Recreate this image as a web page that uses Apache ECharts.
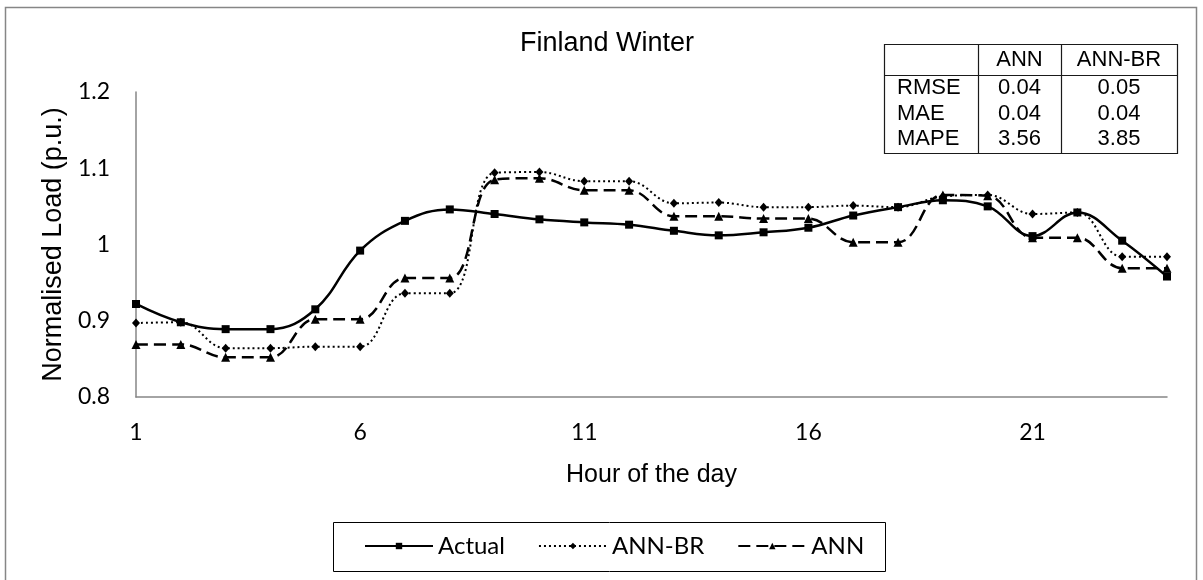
<!DOCTYPE html>
<html>
<head>
<meta charset="utf-8">
<title>Finland Winter</title>
<script src="https://cdn.jsdelivr.net/npm/echarts@6/dist/echarts.min.js"></script>
<style>
    html, body { margin: 0; padding: 0; background: #fff; }
    #main { width: 1203px; height: 580px; }
</style>
</head>
<body>
<div id="main"></div>
<script>
// hours of the day
var hours = ['1', '2', '3', '4', '5', '6', '7', '8', '9', '10', '11', '12',
    '13', '14', '15', '16', '17', '18', '19', '20', '21', '22', '23', '24'];

// normalised load (p.u.)
var actual = [0.922, 0.898, 0.889, 0.889, 0.915, 0.992, 1.031, 1.046, 1.040, 1.033, 1.029, 1.026,
    1.018, 1.012, 1.016, 1.022, 1.038, 1.049, 1.058, 1.050, 1.011, 1.042, 1.005, 0.958];
var annBr = [0.897, 0.898, 0.864, 0.864, 0.866, 0.866, 0.936, 0.936, 1.094, 1.095, 1.083, 1.083,
    1.054, 1.055, 1.049, 1.049, 1.051, 1.049, 1.063, 1.065, 1.040, 1.042, 0.984, 0.984];
var ann = [0.869, 0.869, 0.852, 0.852, 0.902, 0.902, 0.956, 0.956, 1.085, 1.087, 1.071, 1.071,
    1.037, 1.037, 1.034, 1.034, 1.003, 1.003, 1.065, 1.064, 1.009, 1.009, 0.969, 0.969];

// error table
var tableCols = ['ANN', 'ANN-BR'];
var tableRows = ['RMSE', 'MAE', 'MAPE'];
var tableVals = [[0.04, 0.05], [0.04, 0.04], [3.56, 3.85]];

var myChart = echarts.init(document.getElementById('main'));

var arial = '"Liberation Sans", Arial, sans-serif';
var calibri = 'Lato, "Open Sans", sans-serif';

// table drawn with graphic elements
function buildTable() {
    var colX = [884, 978, 1061, 1177];
    var top = 44, headBottom = 75, bottom = 153;
    var rowY = [88, 114, 139];
    var headY = 60;
    var els = [];
    var lineStyle = { stroke: '#1a1a1a', lineWidth: 1.2 };
    els.push({ type: 'rect', shape: { x: colX[0] + 0.5, y: top + 0.5, width: colX[3] - colX[0], height: bottom - top },
        style: { fill: '#fff', stroke: '#1a1a1a', lineWidth: 1.2 } });
    els.push({ type: 'line', shape: { x1: colX[0], y1: headBottom + 0.5, x2: colX[3], y2: headBottom + 0.5 }, style: lineStyle });
    els.push({ type: 'line', shape: { x1: colX[1] + 0.5, y1: top, x2: colX[1] + 0.5, y2: bottom }, style: lineStyle });
    els.push({ type: 'line', shape: { x1: colX[2] + 0.5, y1: top, x2: colX[2] + 0.5, y2: bottom }, style: lineStyle });
    var txt = function (s, x, y, align) {
        return { type: 'text', x: x, y: y,
            style: { text: s, font: '22px ' + arial, fill: '#000', align: align, verticalAlign: 'middle',
                textAlign: align, textVerticalAlign: 'middle' } };
    };
    tableCols.forEach(function (c, j) {
        els.push(txt(c, (colX[j + 1] + colX[j + 2]) / 2, headY, 'center'));
    });
    tableRows.forEach(function (r, i) {
        els.push(txt(r, 897, rowY[i], 'left'));
        tableVals[i].forEach(function (v, j) {
            els.push(txt(v.toFixed(2), (colX[j + 1] + colX[j + 2]) / 2, rowY[i], 'center'));
        });
    });
    return els;
}

var graphics = [
    // chart area border
    { type: 'rect', silent: true, z: -10, shape: { x: 5.5, y: 7.5, width: 1191, height: 600 },
        style: { fill: 'none', stroke: '#868686', lineWidth: 1.5 } },
    // legend box
    { type: 'rect', silent: true, shape: { x: 333.5, y: 522.5, width: 552, height: 49 },
        style: { fill: 'none', stroke: '#000', lineWidth: 1 } }
].concat(buildTable());

var option = {
    backgroundColor: '#fff',
    animation: false,
    title: {
        text: 'Finland Winter',
        left: 515,
        top: 25,
        textStyle: { fontFamily: arial, fontSize: 27, fontWeight: 'normal', color: '#000' }
    },
    legend: {
        left: 364,
        top: 534,
        padding: 0,
        itemWidth: 68,
        itemHeight: 8,
        itemGap: 33,
        textStyle: { fontFamily: calibri, fontSize: 24, color: '#000' },
        data: ['Actual', 'ANN-BR', 'ANN']
    },
    grid: { left: 136, right: 36, top: 92, bottom: 183, containLabel: false },
    xAxis: {
        type: 'category',
        data: hours,
        boundaryGap: false,
        name: 'Hour of the day',
        nameLocation: 'middle',
        nameGap: 66,
        nameTextStyle: { fontFamily: arial, fontSize: 25, color: '#000' },
        axisLine: { lineStyle: { color: '#868686', width: 1.5 } },
        axisTick: { show: false },
        axisLabel: { interval: 4, margin: 24, fontFamily: calibri, fontSize: 23, color: '#000' },
        splitLine: { show: false }
    },
    yAxis: {
        type: 'value',
        min: 0.8,
        max: 1.2,
        interval: 0.1,
        name: 'Normalised Load (p.u.)',
        nameLocation: 'middle',
        nameGap: 62,
        nameTextStyle: { fontFamily: arial, fontSize: 27, color: '#000' },
        axisLine: { show: true, lineStyle: { color: '#868686', width: 1.5 } },
        axisTick: { show: false },
        axisLabel: { margin: 26, fontFamily: calibri, fontSize: 23, color: '#000' },
        splitLine: { show: false }
    },
    series: [
        {
            name: 'Actual',
            type: 'line',
            data: actual,
            smooth: 0.4,
            symbol: 'rect',
            symbolSize: 8,
            itemStyle: { color: '#000' },
            lineStyle: { color: '#000', width: 2.5, type: 'solid' },
            z: 4
        },
        {
            name: 'ANN-BR',
            type: 'line',
            data: annBr,
            smooth: 0.4,
            symbol: 'diamond',
            symbolSize: [8, 9],
            itemStyle: { color: '#000' },
            lineStyle: { color: '#000', width: 2, type: [2, 3] },
            z: 3
        },
        {
            name: 'ANN',
            type: 'line',
            data: ann,
            smooth: 0.4,
            symbol: 'triangle',
            symbolSize: 9,
            itemStyle: { color: '#000' },
            lineStyle: { color: '#000', width: 2.5, type: [12, 6] },
            z: 2
        }
    ],
    graphic: graphics
};

myChart.setOption(option);
</script>
</body>
</html>
